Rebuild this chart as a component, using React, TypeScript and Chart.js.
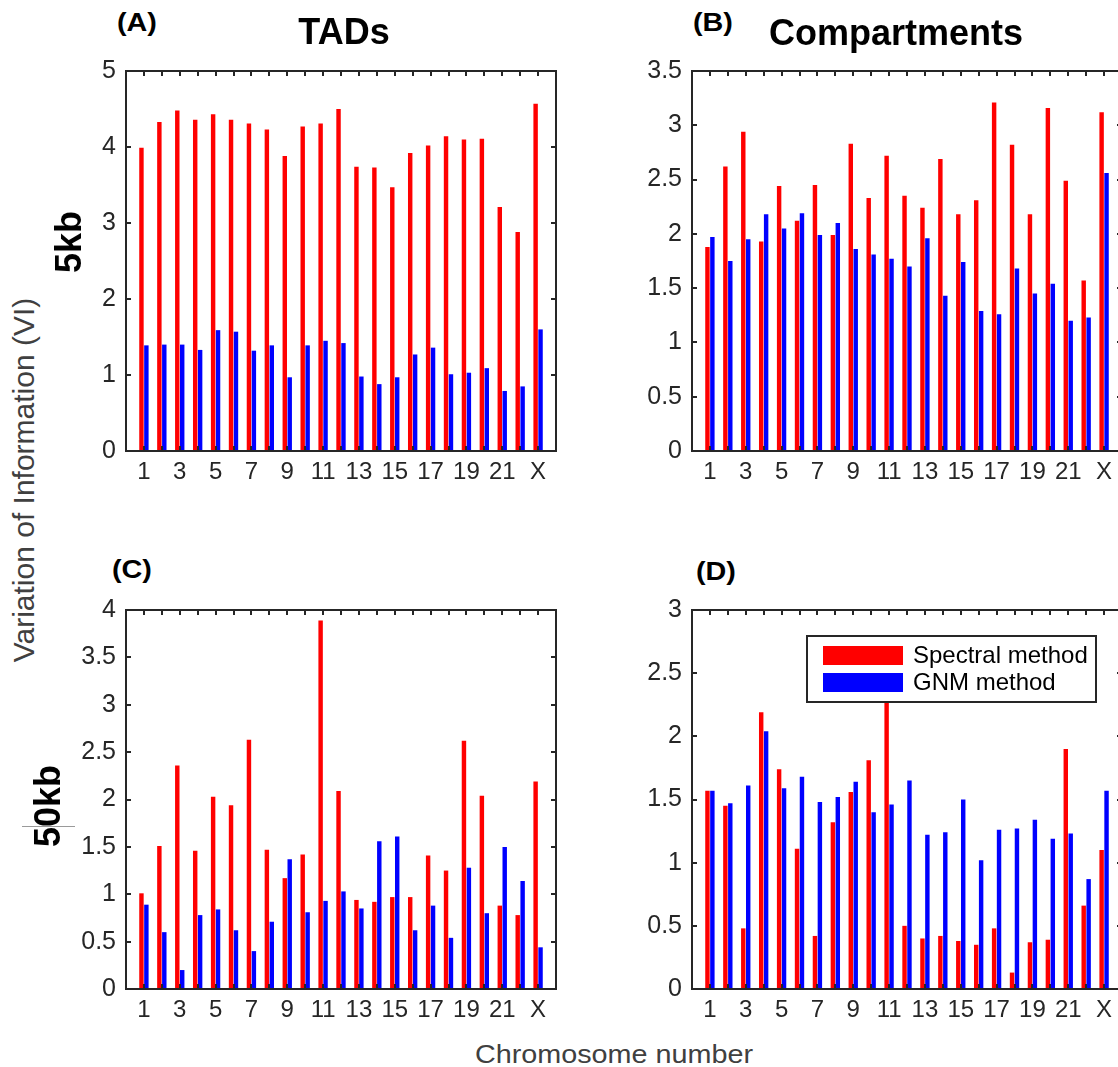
import React, { useEffect, useRef } from 'react';
import { Chart, registerables } from 'chart.js';

Chart.register(...registerables);

// ---------- data ----------
const chromosomes = ['1','2','3','4','5','6','7','8','9','10','11','12','13','14','15','16','17','18','19','20','21','22','X'];
const xLabelPositions = [1, 3, 5, 7, 9, 11, 13, 15, 17, 19, 21, 23];

// (A) TADs, 5kb
const tadsSpectral5kb = [3.99, 4.33, 4.48, 4.36, 4.43, 4.36, 4.31, 4.23, 3.88, 4.27, 4.31, 4.50, 3.74, 3.73, 3.47, 3.92, 4.02, 4.14, 4.10, 4.11, 3.21, 2.88, 4.57];
const tadsGnm5kb = [1.39, 1.40, 1.40, 1.33, 1.59, 1.57, 1.32, 1.39, 0.97, 1.39, 1.45, 1.42, 0.98, 0.88, 0.97, 1.27, 1.36, 1.01, 1.03, 1.09, 0.79, 0.85, 1.60];

// (B) Compartments, 5kb
const compSpectral5kb = [1.88, 2.62, 2.94, 1.93, 2.44, 2.12, 2.45, 1.99, 2.83, 2.33, 2.72, 2.35, 2.24, 2.69, 2.18, 2.31, 3.21, 2.82, 2.18, 3.16, 2.49, 1.57, 3.12];
const compGnm5kb = [1.97, 1.75, 1.95, 2.18, 2.05, 2.19, 1.99, 2.10, 1.86, 1.81, 1.77, 1.70, 1.96, 1.43, 1.74, 1.29, 1.26, 1.68, 1.45, 1.54, 1.20, 1.23, 2.56];

// (C) TADs, 50kb
const tadsSpectral50kb = [1.01, 1.51, 2.36, 1.46, 2.03, 1.94, 2.63, 1.47, 1.17, 1.42, 3.89, 2.09, 0.94, 0.92, 0.97, 0.97, 1.41, 1.25, 2.62, 2.04, 0.88, 0.78, 2.19];
const tadsGnm50kb = [0.89, 0.60, 0.20, 0.78, 0.84, 0.62, 0.40, 0.71, 1.37, 0.81, 0.93, 1.03, 0.85, 1.56, 1.61, 0.62, 0.88, 0.54, 1.28, 0.80, 1.50, 1.14, 0.44];

// (D) Compartments, 50kb
const compSpectral50kb = [1.57, 1.45, 0.48, 2.19, 1.74, 1.11, 0.42, 1.32, 1.56, 1.81, 2.45, 0.50, 0.40, 0.42, 0.38, 0.35, 0.48, 0.13, 0.37, 0.39, 1.90, 0.66, 1.10];
const compGnm50kb = [1.57, 1.47, 1.61, 2.04, 1.59, 1.68, 1.48, 1.52, 1.64, 1.40, 1.46, 1.65, 1.22, 1.24, 1.50, 1.02, 1.26, 1.27, 1.34, 1.19, 1.23, 0.87, 1.57];

const seriesLabels = ['Spectral method', 'GNM method'];
const seriesColors = ['#ff0000', '#0000ff'];

// y axis ranges: [max, step]
const yAxisA = [5, 1];
const yAxisB = [3.5, 0.5];
const yAxisC = [4, 0.5];
const yAxisD = [3, 0.5];

// ---------- styles ----------
const FONT = '"Liberation Sans", Arial, Helvetica, sans-serif';
const AXIS_COLOR = '#262626';
const PAD_LEFT = 70;
const PAD_TOP = 18;
const PAD_RIGHT = 20;
const X_AXIS_H = 45;
const PLOT_W = 430;

const frameTicksPlugin = {
  id: 'frameTicks',
  afterDatasetsDraw(chart: any) {
    const { ctx, chartArea: a, scales } = chart;
    const xs = scales.x;
    const ys = scales.y;
    const TL = 5;
    ctx.save();
    ctx.strokeStyle = AXIS_COLOR;
    ctx.lineWidth = 2;
    ctx.beginPath();
    chromosomes.forEach((_, i) => {
      const px = Math.round(xs.getPixelForValue(i + 1));
      ctx.moveTo(px, a.bottom);
      ctx.lineTo(px, a.bottom - TL);
      ctx.moveTo(px, a.top);
      ctx.lineTo(px, a.top + TL);
    });
    ys.ticks.forEach((t: any) => {
      const py = Math.round(ys.getPixelForValue(t.value));
      ctx.moveTo(a.left, py);
      ctx.lineTo(a.left + TL, py);
      ctx.moveTo(a.right, py);
      ctx.lineTo(a.right - TL, py);
    });
    ctx.stroke();
    ctx.strokeRect(a.left, a.top, a.right - a.left, a.bottom - a.top);
    ctx.restore();
  },
};

const insideLegendPlugin = {
  id: 'insideLegend',
  afterDraw(chart: any, _args: any, opts: any) {
    if (!opts || !opts.show) return;
    const { ctx, chartArea: a } = chart;
    const bx = a.left + 115;
    const by = a.top + 26;
    const bw = 289;
    const bh = 66;
    ctx.save();
    ctx.fillStyle = '#ffffff';
    ctx.fillRect(bx, by, bw, bh);
    ctx.strokeStyle = AXIS_COLOR;
    ctx.lineWidth = 2;
    ctx.strokeRect(bx, by, bw, bh);
    ctx.font = `24px ${FONT}`;
    ctx.textBaseline = 'middle';
    ctx.textAlign = 'left';
    chart.data.datasets.forEach((ds: any, i: number) => {
      const sy = by + 10 + i * 27;
      ctx.fillStyle = ds.backgroundColor;
      ctx.fillRect(bx + 16, sy, 80, 19);
      ctx.fillStyle = '#000000';
      ctx.fillText(ds.label, bx + 106, sy + 10);
    });
    ctx.restore();
  },
};

type PanelProps = {
  plotLeft: number;
  plotTop: number;
  plotH: number;
  spectral: number[];
  gnm: number[];
  yAxis: number[];
  legend?: boolean;
};

function Panel({ plotLeft, plotTop, plotH, spectral, gnm, yAxis, legend }: PanelProps) {
  const ref = useRef<HTMLCanvasElement | null>(null);
  const width = PAD_LEFT + PLOT_W + PAD_RIGHT;
  const height = PAD_TOP + plotH + X_AXIS_H;

  useEffect(() => {
    if (!ref.current) return;
    const series = [spectral, gnm];
    const chart = new Chart(ref.current, {
      type: 'bar',
      data: {
        datasets: series.map((vals, s) => ({
          label: seriesLabels[s],
          data: vals.map((v, i) => ({ x: i + 1, y: v })),
          backgroundColor: seriesColors[s],
          borderWidth: 0,
          categoryPercentage: 0.55,
          barPercentage: 0.9,
        })),
      },
      options: {
        responsive: false,
        animation: false,
        devicePixelRatio: 1,
        layout: { padding: { left: 0, top: PAD_TOP, right: PAD_RIGHT, bottom: 0 } },
        plugins: {
          legend: { display: false },
          tooltip: { enabled: false },
          insideLegend: { show: !!legend },
        } as any,
        scales: {
          x: {
            type: 'linear',
            min: 0,
            max: chromosomes.length + 1,
            offset: false,
            grid: { display: false, drawTicks: false },
            border: { display: false },
            afterBuildTicks: (s: any) => {
              s.ticks = xLabelPositions.map((v) => ({ value: v }));
            },
            afterFit: (s: any) => {
              s.height = X_AXIS_H;
            },
            ticks: {
              autoSkip: false,
              maxRotation: 0,
              minRotation: 0,
              padding: 7,
              color: AXIS_COLOR,
              font: { family: FONT, size: 24 },
              callback: (v: any) => chromosomes[Number(v) - 1],
            },
          },
          y: {
            min: 0,
            max: yAxis[0],
            grid: { display: false, drawTicks: false },
            border: { display: false },
            afterFit: (s: any) => {
              s.width = PAD_LEFT;
            },
            ticks: {
              stepSize: yAxis[1],
              padding: 10,
              color: AXIS_COLOR,
              font: { family: FONT, size: 25 },
              callback: (v: any) => String(v),
            },
          },
        },
      } as any,
      plugins: [frameTicksPlugin, insideLegendPlugin],
    });
    return () => chart.destroy();
  }, []);

  return (
    <canvas
      ref={ref}
      width={width}
      height={height}
      style={{
        position: 'absolute',
        left: plotLeft - PAD_LEFT,
        top: plotTop - PAD_TOP,
        width,
        height,
      }}
    />
  );
}

type LabelProps = {
  x: number;
  y: number;
  size: number;
  bold?: boolean;
  color?: string;
  rotate?: number;
  sx?: number;
  children: React.ReactNode;
};

function Label({ x, y, size, bold, color, rotate, sx, children }: LabelProps) {
  const tf = `translate(-50%, -50%)${rotate ? ` rotate(${rotate}deg)` : ''}${sx ? ` scaleX(${sx})` : ''}`;
  return (
    <div
      style={{
        position: 'absolute',
        left: x,
        top: y,
        transform: tf,
        fontFamily: FONT,
        fontSize: size,
        fontWeight: bold ? 700 : 400,
        color: color || '#000',
        lineHeight: 1,
        whiteSpace: 'nowrap',
      }}
    >
      {children}
    </div>
  );
}

export default function App() {
  return (
    <div
      style={{
        position: 'absolute',
        left: 0,
        top: 0,
        width: 1118,
        height: 1067,
        overflow: 'hidden',
        background: '#ffffff',
      }}
    >
      <Panel plotLeft={126} plotTop={64} plotH={387} spectral={tadsSpectral5kb} gnm={tadsGnm5kb} yAxis={yAxisA} />
      <Panel plotLeft={692} plotTop={64} plotH={387} spectral={compSpectral5kb} gnm={compGnm5kb} yAxis={yAxisB} />
      <Panel plotLeft={126} plotTop={603} plotH={386} spectral={tadsSpectral50kb} gnm={tadsGnm50kb} yAxis={yAxisC} />
      <Panel plotLeft={692} plotTop={603} plotH={386} spectral={compSpectral50kb} gnm={compGnm50kb} yAxis={yAxisD} legend />

      <Label x={137} y={22} size={25} bold sx={1.15}>(A)</Label>
      <Label x={713} y={22} size={25} bold sx={1.15}>(B)</Label>
      <Label x={132} y={569} size={25} bold sx={1.15}>(C)</Label>
      <Label x={716} y={571} size={25} bold sx={1.15}>(D)</Label>

      <Label x={344} y={32} size={36} bold>TADs</Label>
      <Label x={896} y={33} size={36} bold>Compartments</Label>

      <Label x={69} y={242} size={36} bold rotate={-90}>5kb</Label>
      <Label x={48} y={806} size={36} bold rotate={-90}>50kb</Label>
      <div style={{ position: 'absolute', left: 22, top: 826, width: 53, height: 1, background: '#9a9a9a' }} />

      <Label x={24} y={480} size={30} color="#404040" rotate={-90}>Variation of Information (VI)</Label>
      <Label x={614} y={1054} size={25} color="#404040" sx={1.15}>Chromosome number</Label>
    </div>
  );
}
